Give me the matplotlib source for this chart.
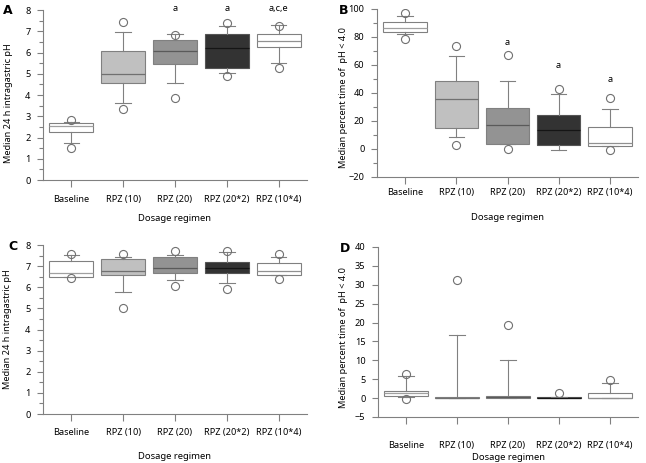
import matplotlib
matplotlib.use("Agg")
import matplotlib.pyplot as plt
from matplotlib.ticker import MultipleLocator

plt.rcParams['font.family'] = ['Noto Sans', 'DejaVu Sans']

groups = ["Baseline", "RPZ (10)", "RPZ (20)", "RPZ (20*2)", "RPZ (10*4)"]
fills = ["#ffffff", "#c0c0c0", "#939393", "#333333", "#ffffff"]
med_colors = ["#a0a0a0", "#707070", "#5a5a5a", "#151515", "#909090"]

# panel A: median 24 h pH
a_q1 = [2.27, 4.55, 5.44, 5.25, 6.24]
a_med = [2.56, 4.97, 6.09, 6.23, 6.56]
a_q3 = [2.70, 6.09, 6.57, 6.87, 6.87]
a_wlo = [1.76, 3.64, 4.55, 5.04, 5.49]
a_whi = [2.75, 6.98, 6.87, 7.26, 7.29]
a_fliers = [[1.52, 2.82], [3.34, 7.43], [3.84, 6.84], [4.88, 7.39], [5.29, 7.25]]
a_notes = ["", "", "a", "a", "a,c,e"]
a_note_y = [0, 0, 8.08, 8.08, 8.08]

# panel B: percent time pH < 4
b_q1 = [83.5, 15.1, 3.7, 3.2, 2.2]
b_med = [86.7, 35.5, 17.3, 13.5, 4.6]
b_q3 = [90.7, 48.6, 29.0, 24.0, 15.6]
b_wlo = [81.8, 8.9, 3.7, -0.4, 2.2]
b_whi = [94.7, 66.3, 48.6, 39.0, 28.3]
b_fliers = [[78.9, 97.1], [2.5, 73.7], [0.1, 66.8], [43.1], [-0.6, 36.2]]
b_notes = ["", "", "a", "a", "a"]
b_note_y = [0, 0, 76.0, 59.6, 49.3]

# panel C: median 24 h pH
c_q1 = [6.50, 6.56, 6.67, 6.67, 6.56]
c_med = [6.68, 6.79, 6.93, 6.93, 6.79]
c_q3 = [7.26, 7.36, 7.42, 7.19, 7.17]
c_wlo = [6.50, 5.77, 6.32, 6.21, 6.56]
c_whi = [7.53, 7.45, 7.54, 7.67, 7.45]
c_fliers = [[6.43, 7.59], [5.03, 7.59], [6.05, 7.70], [5.93, 7.70], [6.40, 7.59]]

# panel D: percent time pH < 4
d_q1 = [0.55, 0.0, 0.0, 0.0, 0.0]
d_med = [1.34, 0.0, 0.2, 0.1, 0.0]
d_q3 = [1.87, 0.3, 0.55, 0.3, 1.3]
d_wlo = [0.3, 0.0, 0.0, 0.0, 0.0]
d_whi = [5.8, 16.8, 10.05, 0.3, 3.9]
d_fliers = [[-0.25, 6.45], [31.3], [19.3], [1.4], [4.85]]

W, H = 646, 463
fig = plt.figure(figsize=(W / 100, H / 100), dpi=100)
gray = "#808080"
fs = 6.6


def rect(l, r, t, b):
    return [l / W, 1 - b / H, (r - l) / W, (b - t) / H]


def panel(box, q1, med, q3, wlo, whi, fl, ylim, major, minor, ylab, ylab_xy,
          tickpad, xlabpad, notes=None, note_y=None):
    ax = fig.add_axes(box)
    stats = []
    for i in range(5):
        stats.append(dict(q1=q1[i], med=med[i], q3=q3[i], whislo=wlo[i],
                          whishi=whi[i], fliers=fl[i]))
    bp = ax.bxp(stats, positions=range(1, 6), widths=0.85, capwidths=0.3,
                patch_artist=True, showfliers=True,
                boxprops=dict(edgecolor=gray, linewidth=0.8),
                whiskerprops=dict(color=gray, linewidth=0.8),
                capprops=dict(color=gray, linewidth=0.8),
                flierprops=dict(marker='o', markersize=5.8, markerfacecolor='none',
                                markeredgecolor='#707070', markeredgewidth=0.8),
                medianprops=dict(linewidth=0.9))
    for i, p in enumerate(bp['boxes']):
        p.set_facecolor(fills[i])
        if i == 3:
            p.set_edgecolor('#555555')
        bp['medians'][i].set_color(med_colors[i])
        p.set_zorder(2)
    for f in bp['fliers']:
        f.set_zorder(3)
    ax.set_xlim(0.45, 5.55)
    ax.set_ylim(*ylim)
    ax.yaxis.set_major_locator(MultipleLocator(major))
    if minor:
        ax.yaxis.set_minor_locator(MultipleLocator(minor))
    ax.set_xticks(range(1, 6))
    ax.set_xticklabels(groups, fontsize=fs)
    for s in ['top', 'right']:
        ax.spines[s].set_visible(False)
    for s in ['left', 'bottom']:
        ax.spines[s].set_color(gray)
        ax.spines[s].set_linewidth(0.8)
    ax.tick_params(axis='both', which='both', direction='out', color=gray,
                   width=0.8, labelsize=fs)
    ax.tick_params(axis='y', which='major', length=4, pad=5)
    ax.tick_params(axis='y', which='minor', length=3)
    ax.tick_params(axis='x', length=5, pad=tickpad)
    ax.set_ylabel(ylab, fontsize=fs)
    ax.yaxis.set_label_coords(*ylab_xy)
    ax.set_xlabel("Dosage regimen", fontsize=fs + 0.2, labelpad=xlabpad)
    if notes:
        for i, n in enumerate(notes):
            if n:
                ax.text(i + 1, note_y[i], n, ha='center', va='center',
                        fontsize=fs, clip_on=False)
    return ax


ph_lab = "Median 24 h intragastric pH"
pc_lab = "Median percent time of  pH < 4.0"

panel(rect(43, 307, 10, 180), a_q1, a_med, a_q3, a_wlo, a_whi, a_fliers,
      (0, 8), 1, 0.5, ph_lab, (-0.115, 0.45), 6, 7, a_notes, a_note_y)
panel(rect(377, 638, 9, 177), b_q1, b_med, b_q3, b_wlo, b_whi, b_fliers,
      (-20, 100), 20, 10, pc_lab, (-0.113, 0.47), 3.2, 11.5, b_notes, b_note_y)
panel(rect(43, 307, 245, 414), c_q1, c_med, c_q3, c_wlo, c_whi, c_fliers,
      (0, 8), 1, 0.5, ph_lab, (-0.116, 0.5), 5.4, 10.8)
panel(rect(378, 638, 247, 417), d_q1, d_med, d_q3, d_wlo, d_whi, d_fliers,
      (-5, 40), 5, None, pc_lab, (-0.117, 0.47), 12.6, 1.5)

for lbl, x, y in [("A", 3, 10), ("B", 339, 11), ("C", 8, 247), ("D", 340, 248)]:
    fig.text(x / W, 1 - y / H, lbl, fontsize=9, fontweight='bold',
             family='DejaVu Sans', ha='left', va='center')

fig.savefig("out.png", dpi=100)
